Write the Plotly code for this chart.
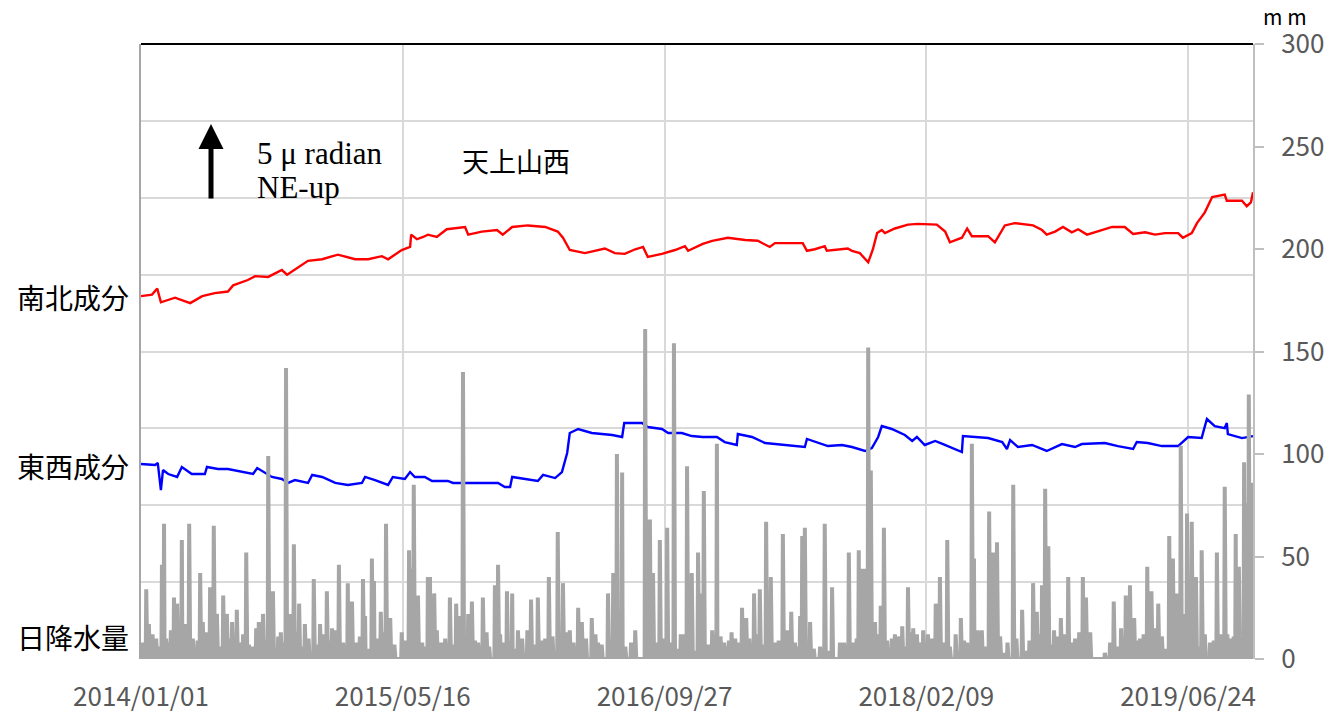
import numpy as np
import pandas as pd
import plotly.graph_objects as go

START = "2014-01-01"
N_DAYS = 2124

# 南北成分 (NS tilt, µradian, relative) : days since start / value
ns_day = [0, 21, 31, 38, 65, 94, 117, 141, 166, 176, 204, 218, 243, 269, 279, 300, 319, 346, 376, 409,
          434, 460, 472, 498, 514, 516, 527, 539, 548, 565, 584, 619, 625, 651, 680, 691, 709, 739, 772, 796,
          806, 819, 848, 886, 905, 924, 944, 959, 968, 995, 1020, 1039, 1045, 1073, 1091, 1121, 1154, 1178, 1201, 1211,
          1236, 1264, 1272, 1287, 1306, 1310, 1350, 1358, 1373, 1389, 1398, 1406, 1415, 1421, 1440, 1465, 1484, 1520, 1536, 1545,
          1568, 1578, 1587, 1608, 1618, 1631, 1650, 1669, 1704, 1721, 1730, 1746, 1761, 1778, 1790, 1807, 1836, 1855, 1879, 1895,
          1918, 1937, 1956, 1981, 1990, 2007, 2017, 2032, 2046, 2070, 2074, 2103, 2112, 2120, 2124]
ns_val = [23.6, 23.7, 24.1, 23.2, 23.5, 23.15, 23.6, 23.8, 23.9, 24.3, 24.65, 24.9, 24.85, 25.3, 25.0, 25.5, 25.9, 26.0, 26.3, 26.0,
          26.0, 26.2, 26.0, 26.6, 26.8, 27.6, 27.3, 27.45, 27.6, 27.45, 27.95, 28.1, 27.6, 27.8, 27.9, 27.6, 28.1, 28.2, 28.1, 27.8,
          27.4, 26.6, 26.4, 26.7, 26.4, 26.35, 26.65, 26.8, 26.15, 26.35, 26.6, 26.85, 26.55, 27.0, 27.2, 27.4, 27.25, 27.2, 26.8, 27.05,
          27.05, 27.05, 26.55, 26.65, 26.85, 26.55, 26.7, 26.55, 26.4, 25.8, 26.65, 27.7, 27.9, 27.7, 28.0, 28.25, 28.3, 28.25, 27.8, 27.1,
          27.4, 28.0, 27.5, 27.5, 27.5, 27.1, 28.2, 28.35, 28.2, 27.9, 27.6, 27.8, 28.1, 27.75, 27.95, 27.6, 27.9, 28.1, 28.1, 27.65,
          27.75, 27.6, 27.7, 27.7, 27.4, 27.7, 28.35, 29.05, 30.05, 30.2, 29.8, 29.8, 29.45, 29.7, 30.35]

# 東西成分 (EW tilt, µradian, relative)
ew_day = [0, 27, 32, 38, 42, 52, 69, 78, 97, 122, 126, 147, 166, 193, 214, 222, 237, 250, 269, 281,
          294, 319, 327, 346, 371, 395, 422, 428, 447, 472, 481, 504, 514, 523, 542, 556, 586, 596, 632, 682,
          695, 705, 709, 739, 758, 768, 791, 804, 814, 819, 835, 861, 900, 919, 923, 957, 968, 995, 1007, 1033,
          1052, 1073, 1100, 1115, 1138, 1140, 1167, 1192, 1217, 1249, 1268, 1272, 1293, 1312, 1339, 1358, 1383, 1396, 1408, 1415,
          1434, 1459, 1473, 1482, 1497, 1517, 1532, 1549, 1568, 1570, 1593, 1618, 1645, 1654, 1660, 1675, 1702, 1730, 1759, 1784,
          1797, 1841, 1866, 1895, 1902, 1923, 1950, 1981, 2000, 2026, 2030, 2036, 2051, 2070, 2074, 2076, 2103, 2124]
ew_val = [12.68, 12.62, 12.75, 10.99, 12.29, 12.03, 11.84, 12.49, 12.03, 12.03, 12.49, 12.36, 12.36, 12.16, 12.03, 12.42, 12.10, 11.84, 11.71, 11.45,
          11.64, 11.45, 11.97, 11.84, 11.45, 11.32, 11.45, 11.84, 11.64, 11.32, 11.84, 11.71, 12.16, 11.84, 11.84, 11.58, 11.58, 11.45, 11.45, 11.45,
          11.19, 11.19, 11.84, 11.71, 11.58, 11.97, 11.77, 12.16, 13.4, 14.7, 14.96, 14.7, 14.57, 14.44, 15.35, 15.35, 15.09, 14.96, 14.7, 14.7,
          14.5, 14.44, 14.44, 14.11, 13.92, 14.63, 14.44, 14.05, 13.98, 13.85, 13.79, 14.31, 14.05, 13.85, 13.92, 13.79, 13.53, 13.72, 14.44, 15.15,
          14.96, 14.57, 14.18, 14.44, 13.92, 14.18, 13.98, 13.72, 13.46, 14.5, 14.44, 14.37, 14.11, 13.66, 14.24, 13.79, 13.92, 13.53, 13.98, 13.79,
          13.98, 14.05, 13.85, 13.66, 14.11, 14.05, 13.85, 13.85, 14.44, 14.37, 14.89, 15.61, 15.15, 15.02, 15.35, 14.63, 14.37, 14.5]

# 日降水量 (daily rainfall, mm): rain days (days since start) / amount
rain_day = [10, 15, 29, 40, 44, 52, 63, 69, 78, 84, 92, 99, 113, 118, 132, 139, 145, 157, 164, 174,
            183, 201, 212, 225, 233, 243, 252, 267, 277, 285, 292, 302, 313, 330, 342, 355, 365, 378, 386, 395,
            403, 413, 424, 428, 441, 445, 458, 468, 476, 498, 512, 518, 521, 529, 537, 548, 552, 560, 575, 590,
            602, 609, 615, 625, 632, 644, 653, 676, 682, 691, 699, 709, 720, 745, 758, 772, 779, 796, 806, 819,
            835, 842, 861, 873, 892, 902, 909, 919, 936, 963, 966, 972, 978, 991, 1005, 1010, 1018, 1031, 1043, 1052,
            1064, 1068, 1075, 1091, 1100, 1114, 1123, 1135, 1148, 1156, 1171, 1182, 1194, 1203, 1211, 1226, 1242, 1249, 1259, 1263,
            1268, 1278, 1297, 1306, 1320, 1335, 1343, 1352, 1362, 1371, 1377, 1383, 1389, 1394, 1402, 1413, 1419, 1434, 1440, 1454,
            1465, 1475, 1482, 1494, 1503, 1518, 1526, 1534, 1540, 1545, 1566, 1578, 1587, 1591, 1606, 1620, 1628, 1635, 1648, 1666,
            1683, 1690, 1704, 1711, 1721, 1727, 1733, 1744, 1757, 1763, 1771, 1784, 1799, 1805, 1813, 1841, 1851, 1858, 1872, 1881,
            1889, 1897, 1908, 1922, 1930, 1937, 1943, 1956, 1964, 1971, 1979, 1986, 1992, 1998, 2007, 2015, 2026, 2032, 2042, 2055,
            2063, 2070, 2080, 2087, 2091, 2097, 2107, 2111, 2116, 2122]
rain_mm = [34, 17, 10, 46, 66, 8, 30, 27, 58, 17, 66, 10, 42, 18, 35, 65, 22, 31, 22, 18,
           24, 52, 6, 18, 22, 99, 33, 13, 142, 22, 56, 27, 17, 39, 17, 33, 15, 46, 8, 37,
           28, 8, 39, 21, 49, 38, 23, 66, 20, 13, 53, 44, 85, 31, 8, 40, 40, 32, 8, 30,
           27, 21, 140, 22, 28, 8, 30, 36, 46, 8, 33, 32, 14, 29, 30, 10, 40, 62, 37, 14,
           25, 18, 20, 8, 32, 42, 100, 91, 8, 161, 68, 68, 42, 58, 64, 8, 154, 12, 94, 42,
           52, 32, 82, 14, 105, 8, 9, 10, 25, 20, 32, 34, 67, 40, 8, 61, 23, 8, 21, 60,
           64, 18, 6, 66, 35, 8, 8, 52, 8, 53, 44, 44, 152, 92, 18, 26, 64, 10, 12, 16,
           35, 15, 12, 14, 12, 27, 40, 8, 58, 6, 20, 8, 105, 49, 14, 72, 52, 57, 3, 85,
           24, 4, 37, 23, 36, 83, 55, 14, 20, 12, 40, 10, 40, 30, 13, 3, 8, 28, 15, 31,
           36, 20, 10, 45, 33, 15, 27, 5, 60, 49, 32, 104, 22, 71, 67, 40, 53, 12, 8, 52,
           12, 84, 10, 11, 61, 45, 96, 76, 129, 86]

# smaller rain days filling the low band
rain_day_small = [3, 22, 35, 48, 57, 74, 88, 105, 108, 125, 150, 169, 190, 195, 206, 220, 238, 258, 262, 272,
                  297, 307, 320, 335, 348, 360, 372, 391, 408, 418, 434, 450, 462, 484, 505, 526, 542, 565, 570, 581,
                  595, 620, 638, 660, 665, 686, 705, 714, 728, 738, 750, 765, 786, 801, 812, 826, 850, 868, 880, 897,
                  915, 925, 944, 985, 997, 1024, 1037, 1058, 1083, 1096, 1107, 1118, 1128, 1142, 1162, 1177, 1188, 1218, 1235, 1254,
                  1285, 1314, 1357, 1367, 1398, 1407, 1425, 1446, 1460, 1470, 1488, 1510, 1530, 1556, 1572, 1598, 1613, 1641, 1655, 1672,
                  1697, 1716, 1738, 1750, 1778, 1792, 1866, 1877, 1903, 1915, 1926, 1950, 1968, 1983, 2002, 2020, 2049, 2075, 2101, 2119]
rain_mm_small = [8, 12, 6, 10, 14, 7, 11, 5, 9, 13, 6, 10, 8, 12, 7, 15, 9, 5, 11, 8,
                 13, 6, 10, 7, 12, 9, 14, 6, 8, 11, 5, 10, 13, 7, 9, 12, 6, 14, 8, 10,
                 7, 11, 9, 13, 6, 12, 8, 5, 10, 14, 7, 9, 11, 6, 13, 8, 10, 12, 7, 9,
                 11, 6, 14, 8, 10, 5, 12, 4, 7, 9, 11, 6, 13, 8, 10, 12, 7, 9, 14, 6,
                 5, 4, 8, 10, 7, 12, 9, 11, 6, 13, 8, 10, 7, 12, 9, 14, 6, 11, 8, 10,
                 9, 12, 7, 11, 8, 13, 6, 10, 9, 12, 7, 11, 8, 10, 4, 6, 9, 12, 10, 14]

tick_days = [0, 500, 1000, 1500, 2000]
tick_text = ["2014/01/01", "2015/05/16", "2016/09/27", "2018/02/09", "2019/06/24"]

start = pd.Timestamp(START)


def to_dates(days):
    return start + pd.to_timedelta(np.asarray(days), unit="D")


rain_daily = np.zeros(N_DAYS + 1)
rain_daily[np.asarray(rain_day_small)] = rain_mm_small
rain_daily[np.asarray(rain_day)] = rain_mm
all_days = np.arange(N_DAYS + 1)

fig = go.Figure()
fig.add_trace(go.Scatter(x=to_dates(ns_day), y=ns_val, mode="lines",
                         line=dict(color="#ff0000", width=2.4), yaxis="y", name="南北成分"))
fig.add_trace(go.Scatter(x=to_dates(ew_day), y=ew_val, mode="lines",
                         line=dict(color="#0000ff", width=2.4), yaxis="y", name="東西成分"))
fig.add_trace(go.Scatter(x=to_dates(all_days), y=rain_daily, mode="lines",
                         line=dict(color="#a6a6a6", width=4), yaxis="y2", name="日降水量"))

JP = "Noto Sans CJK JP"
TICKFONT = dict(family=JP, size=26, color="#595959")

fig.update_layout(
    width=1343, height=713,
    margin=dict(l=141, r=90, t=44, b=54),
    paper_bgcolor="white", plot_bgcolor="white",
    showlegend=False,
    xaxis=dict(
        type="date",
        range=[to_dates([0])[0], to_dates([N_DAYS])[0]],
        tickvals=to_dates(tick_days), ticktext=tick_text,
        tickfont=TICKFONT,
        showgrid=True, gridcolor="#d9d9d9", gridwidth=2,
        ticks="", ticklabelstandoff=20,
        showline=False, zeroline=False, automargin=False,
    ),
    yaxis=dict(
        range=[0, 40], dtick=5, tick0=0,
        showticklabels=False, ticks="",
        showgrid=True, gridcolor="#d9d9d9", gridwidth=2,
        showline=True, linecolor="#a6a6a6", linewidth=2,
        zeroline=False, automargin=False,
    ),
    yaxis2=dict(
        overlaying="y", side="right",
        range=[0, 300], dtick=50, tick0=0,
        showgrid=False, zeroline=False,
        showline=True, linecolor="#bfbfbf", linewidth=2,
        ticks="outside", ticklen=9, tickcolor="#bfbfbf", tickwidth=2,
        ticklabelstandoff=12,
        tickfont=TICKFONT, automargin=False,
    ),
)

# top border
fig.add_shape(type="line", xref="paper", yref="paper", x0=0, x1=1, y0=1, y1=1,
              line=dict(color="#000000", width=2))

# side labels
for txt, yp in [("南北成分", 297), ("東西成分", 466), ("日降水量", 637)]:
    fig.add_annotation(text=txt, xref="paper", yref="paper",
                       x=(15 - 141) / 1112, xanchor="left",
                       y=(659 - yp) / 615, yanchor="middle", showarrow=False,
                       font=dict(family=JP, size=28, color="#000000"))

fig.add_annotation(text="天上山西", xref="paper", yref="paper",
                   x=(516 - 141) / 1112, y=(659 - 160) / 615, xanchor="center", yanchor="middle",
                   showarrow=False, font=dict(family=JP, size=27, color="#000000"))
fig.add_annotation(text="5 μ radian", xref="paper", yref="paper",
                   x=(255 - 141) / 1112, y=(659 - 153) / 615, xanchor="left", yanchor="middle",
                   showarrow=False, font=dict(family="Liberation Serif", size=31, color="#000000"))
fig.add_annotation(text="NE-up", xref="paper", yref="paper",
                   x=(255 - 141) / 1112, y=(659 - 187) / 615, xanchor="left", yanchor="middle",
                   showarrow=False, font=dict(family="Liberation Serif", size=31, color="#000000"))
fig.add_annotation(text="m m", xref="paper", yref="paper",
                   x=(1285 - 141) / 1112, y=(659 - 16) / 615, xanchor="center", yanchor="middle",
                   showarrow=False, font=dict(family=JP, size=21, color="#000000"))
# 5 µradian scale arrow
fig.add_annotation(text="", xref="paper", yref="paper",
                   x=(211 - 141) / 1112, y=(659 - 124) / 615,
                   ax=0, ay=76, axref="pixel", ayref="pixel",
                   showarrow=True, arrowhead=2, arrowsize=1, arrowwidth=5, arrowcolor="#000000")

# remove the default 8px page margin so the figure fills the window exactly
fig.write_html("out.html", config={"displayModeBar": False},
               post_script="document.body.style.margin='0';document.body.style.overflow='hidden';")
